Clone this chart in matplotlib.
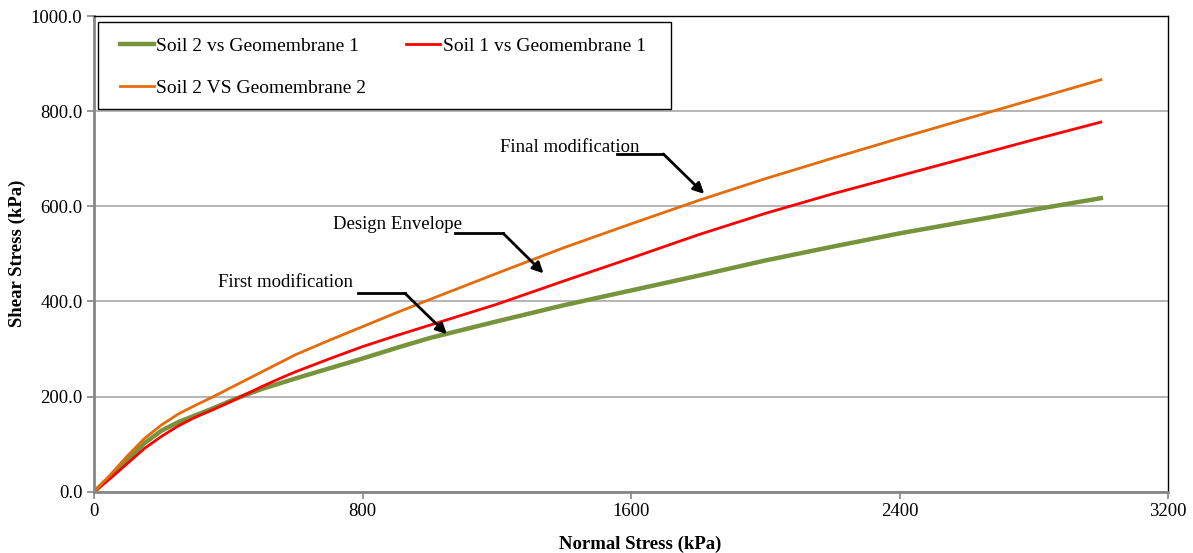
import matplotlib
matplotlib.use("Agg")
import matplotlib.pyplot as plt
from matplotlib.patches import Rectangle
from matplotlib.ticker import FormatStrFormatter

plt.rcParams['font.family'] = ['Liberation Serif', 'DejaVu Serif']

# values
normal_stress = [0, 50, 100, 150, 200, 250, 300, 350, 400, 450, 500, 550, 600,
                 700, 800, 900, 1000, 1200, 1400, 1600, 1800, 2000, 2200,
                 2400, 2600, 2800, 3000]
soil2_gm1 = [0, 33, 68, 102, 128, 146, 160, 174, 189, 203, 216, 227, 238,
             259, 280, 302, 323, 358, 392, 423, 454, 486, 515,
             543, 568, 593, 617]
soil1_gm1 = [0, 29, 60, 91, 116, 138, 156, 171, 187, 204, 221, 237, 252,
             279, 305, 328, 350, 394, 443, 491, 540, 585, 626,
             664, 702, 740, 777]
soil2_gm2 = [0, 37, 76, 112, 140, 163, 181, 198, 216, 234, 252, 270, 288,
             318, 347, 376, 404, 459, 513, 563, 612, 658, 701,
             743, 784, 825, 866]

x_ticks = [0, 800, 1600, 2400, 3200]
y_ticks = [0, 200, 400, 600, 800, 1000]

# annotation text, text anchor, arrow path (start, knee, tip)
notes = [
    ("Final modification", (1209, 714), [(1558, 710), (1696, 710), (1818, 626)]),
    ("Design Envelope", (712, 553), [(1075, 543), (1219, 543), (1339, 459)]),
    ("First modification", (368, 431), [(785, 417), (926, 417), (1051, 331)]),
]

fig = plt.figure(figsize=(11.93, 5.53), dpi=100)
ax = fig.add_axes([0.079, 0.111, 0.9, 0.86])

ax.plot(normal_stress, soil2_gm1, color='#77933C', lw=3.2, label='Soil 2 vs Geomembrane 1')
ax.plot(normal_stress, soil1_gm1, color='#FF0000', lw=2.0, label='Soil 1 vs Geomembrane 1')
ax.plot(normal_stress, soil2_gm2, color='#E46C0A', lw=2.0, label='Soil 2 VS Geomembrane 2')

ax.set_xlim(0, 3200)
ax.set_ylim(0, 1000)
ax.set_xticks(x_ticks)
ax.set_yticks(y_ticks)
ax.yaxis.set_major_formatter(FormatStrFormatter('%.1f'))
ax.tick_params(labelsize=13.5, color='#868686', length=5, width=1.2)
ax.yaxis.grid(True, color='#A0A0A0', lw=1.1)
ax.set_axisbelow(True)

for side in ['left', 'bottom']:
    ax.spines[side].set_color('#868686')
    ax.spines[side].set_linewidth(2)
for side in ['top', 'right']:
    ax.spines[side].set_color('black')
    ax.spines[side].set_linewidth(1)

fig.text(640 / 1193, 1 - 544 / 553, 'Normal Stress (kPa)', fontsize=13.5,
         fontweight='bold', ha='center', va='center')
fig.text(17 / 1193, 1 - 253 / 553, 'Shear Stress (kPa)', fontsize=13.5,
         fontweight='bold', ha='center', va='center', rotation=90)

for text, pos, path in notes:
    ax.text(pos[0], pos[1], text, fontsize=13.5, va='baseline', ha='left')
    xs = [p[0] for p in path[:2]]
    ys = [p[1] for p in path[:2]]
    ax.plot(xs, ys, color='black', lw=2)
    ax.annotate('', xy=path[2], xytext=path[1],
                arrowprops=dict(arrowstyle='-|>', color='black', lw=2,
                                mutation_scale=16, shrinkA=0, shrinkB=0))

# legend frame drawn separately so the padding can match the reference
ax.add_patch(Rectangle((98 / 1193, 1 - 109 / 553), 573 / 1193, 87 / 553,
                       transform=fig.transFigure, facecolor='white',
                       edgecolor='black', lw=1, zorder=4))

handles, labels = ax.get_legend_handles_labels()
order = [0, 2, 1]
leg = fig.legend([handles[i] for i in order], [labels[i] for i in order],
                 ncol=2, loc='upper left',
                 bbox_to_anchor=(120 / 1193, 1 - 37 / 553),
                 borderaxespad=0, borderpad=0, fontsize=14, handlelength=1.75,
                 handletextpad=0.12, labelspacing=1.25, columnspacing=2.05,
                 frameon=False)
leg.set_zorder(5)

fig.savefig('out.png', dpi=100)
